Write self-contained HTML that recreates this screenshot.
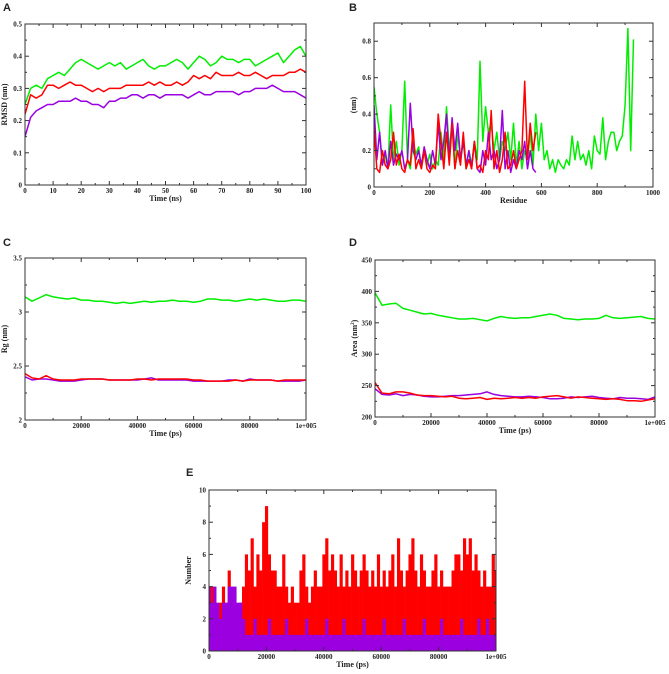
<!DOCTYPE html>
<html><head><meta charset="utf-8"><style>
body{margin:0;background:#fff;width:669px;height:669px;overflow:hidden}
svg text{font-family:"Liberation Serif",serif;font-weight:bold;fill:#222}
.pl{font-family:"Liberation Sans",sans-serif!important;font-size:11px}
</style></head><body>
<svg id="fig" width="669" height="669" xmlns="http://www.w3.org/2000/svg"></svg>
<script>
// Panel A: RMSD
const aTime=[];for(let i=0;i<=50;i++)aTime.push(i*2);
const aGreen=[0.25,0.30,0.31,0.30,0.33,0.34,0.35,0.34,0.36,0.38,0.39,0.38,0.37,0.36,0.37,0.38,0.37,0.38,0.36,0.37,0.38,0.39,0.37,0.36,0.37,0.37,0.38,0.39,0.38,0.36,0.38,0.40,0.39,0.37,0.38,0.40,0.39,0.39,0.38,0.39,0.39,0.37,0.38,0.39,0.40,0.41,0.38,0.40,0.42,0.43,0.40];
const aRed=[0.22,0.28,0.27,0.28,0.31,0.31,0.30,0.31,0.32,0.31,0.31,0.30,0.29,0.30,0.29,0.30,0.30,0.30,0.31,0.31,0.31,0.31,0.32,0.31,0.32,0.31,0.31,0.32,0.31,0.32,0.34,0.33,0.34,0.33,0.35,0.34,0.34,0.34,0.35,0.34,0.34,0.35,0.34,0.33,0.34,0.34,0.34,0.35,0.35,0.36,0.35];
const aPurple=[0.15,0.21,0.23,0.24,0.25,0.25,0.26,0.26,0.26,0.27,0.26,0.26,0.25,0.25,0.24,0.26,0.26,0.27,0.27,0.28,0.28,0.27,0.28,0.28,0.27,0.28,0.28,0.28,0.28,0.27,0.28,0.29,0.28,0.28,0.29,0.29,0.29,0.29,0.28,0.29,0.29,0.30,0.30,0.30,0.31,0.30,0.29,0.29,0.29,0.28,0.27];
// Panel B: RMSF
const bGreen=[0.55,0.4,0.3,0.12,0.18,0.1,0.45,0.15,0.25,0.12,0.2,0.58,0.15,0.1,0.25,0.18,0.22,0.1,0.2,0.12,0.18,0.1,0.15,0.12,0.3,0.15,0.44,0.2,0.35,0.1,0.3,0.15,0.25,0.1,0.2,0.12,0.25,0.15,0.69,0.25,0.44,0.3,0.35,0.2,0.3,0.15,0.25,0.2,0.3,0.15,0.35,0.12,0.25,0.1,0.2,0.15,0.3,0.12,0.4,0.2,0.35,0.15,0.2,0.1,0.15,0.08,0.15,0.12,0.1,0.15,0.12,0.28,0.15,0.25,0.15,0.18,0.12,0.2,0.1,0.28,0.2,0.18,0.38,0.15,0.25,0.3,0.3,0.2,0.25,0.28,0.45,0.87,0.2,0.81];
const bRed=[0.33,0.1,0.08,0.2,0.12,0.1,0.15,0.3,0.12,0.18,0.1,0.08,0.15,0.12,0.32,0.1,0.15,0.1,0.2,0.1,0.08,0.12,0.1,0.4,0.25,0.1,0.3,0.12,0.35,0.1,0.2,0.12,0.3,0.1,0.15,0.1,0.25,0.1,0.12,0.08,0.2,0.15,0.42,0.1,0.2,0.08,0.15,0.3,0.1,0.12,0.2,0.1,0.15,0.2,0.58,0.15,0.35,0.2,0.3];
const bPurple=[0.45,0.15,0.3,0.12,0.2,0.1,0.25,0.12,0.18,0.15,0.2,0.1,0.15,0.46,0.2,0.15,0.2,0.12,0.22,0.15,0.1,0.2,0.12,0.35,0.15,0.25,0.4,0.15,0.38,0.2,0.35,0.15,0.25,0.12,0.2,0.1,0.25,0.1,0.08,0.2,0.12,0.3,0.15,0.2,0.1,0.15,0.42,0.1,0.2,0.08,0.15,0.1,0.2,0.15,0.25,0.1,0.2,0.1,0.08];
// Panel C: Rg
const cGreen=[3.14,3.10,3.13,3.16,3.14,3.13,3.12,3.13,3.11,3.11,3.10,3.10,3.09,3.08,3.09,3.08,3.09,3.10,3.09,3.10,3.10,3.11,3.10,3.10,3.09,3.10,3.12,3.12,3.11,3.11,3.10,3.11,3.12,3.11,3.12,3.11,3.10,3.10,3.11,3.11,3.10];
const cRed=[2.43,2.39,2.38,2.41,2.38,2.37,2.37,2.37,2.38,2.38,2.38,2.38,2.37,2.37,2.37,2.37,2.38,2.38,2.37,2.38,2.38,2.38,2.38,2.38,2.37,2.37,2.36,2.36,2.36,2.36,2.37,2.36,2.37,2.37,2.37,2.37,2.36,2.37,2.37,2.37,2.37];
const cPurple=[2.40,2.37,2.38,2.38,2.37,2.36,2.36,2.36,2.37,2.38,2.38,2.38,2.37,2.37,2.37,2.37,2.37,2.38,2.39,2.37,2.37,2.37,2.37,2.37,2.36,2.36,2.36,2.36,2.36,2.37,2.37,2.36,2.38,2.37,2.37,2.37,2.36,2.36,2.36,2.36,2.37];
// Panel D: SASA
const dGreen=[398,378,380,381,373,370,367,364,365,362,360,358,356,356,357,355,353,357,360,358,357,358,358,360,362,364,362,357,356,355,356,356,357,362,358,357,358,359,360,357,356];
const dRed=[255,238,237,240,240,238,235,234,234,233,232,233,230,229,230,231,228,230,229,230,231,230,231,230,232,233,234,232,230,232,231,230,229,228,229,228,226,226,225,227,229];
const dPurple=[245,236,235,237,234,236,235,233,232,232,233,234,234,235,236,237,240,236,234,233,232,232,233,232,231,229,229,230,232,231,232,233,231,230,229,231,230,230,229,228,232];
// Panel E: H-bonds
const eRed=[3,4,3,2,3,4,3,5,3,3,2,3,4, 6,5,7,4,6,5,8,9,6,5,5,4,4, 6,4,3,4,3,3,5,6,4,3,4,5,4,4,6, 7,5,6,5,4,6,4,5,4,6,5,4,5,6,5, 4,5,4,6,4,5,4,5,6,4,7,5,4,5,6, 7,5,4,6,5,4,4,5,6,4,5,4,4,4,5, 6,6,5,7,6,7,5,6,5,4,5,4,4,6,5];
const ePurple=[4,3,4,3,2,3,3,4,4,4,3,3,2, 1,1,1,2,1,1,1,1,2,1,1,1,1,1,2,1,1,1,1,1,1,2,1,1,1,1,1,1,2,1,1,1,1,1,2,1,1,1,1,1,1,2,1,1,1,1,1,1,2,1,1,1,1,1,1,2,1,1,1,1,1,1,2,1,1,1,1,1,2,1,1,1,1,1,1,2,1,1,1,1,1,2,1,1,2,1,1,1];
const psTime=[];for(let i=0;i<=40;i++)psTime.push(i*2500);
const eTime=[];for(let i=0;i<=100;i++)eTime.push(i*1000);

const NS="http://www.w3.org/2000/svg",svg=document.getElementById('fig');
function mk(t,a,p){const e=document.createElementNS(NS,t);for(const k in a)e.setAttribute(k,a[k]);(p||svg).appendChild(e);return e;}
function panel(c){
  const g=mk('g',{});
  
  
  const sx=v=>c.x0+(v-c.xmin)/(c.xmax-c.xmin)*(c.x1-c.x0);
  const sy=v=>c.y1-(v-c.ymin)/(c.ymax-c.ymin)*(c.y1-c.y0);
  const clip=mk('clipPath',{id:'cl'+c.name},g);mk('rect',{x:c.x0,y:c.y0,width:c.x1-c.x0,height:c.y1-c.y0},clip);
  const sg=mk('g',{'clip-path':'url(#cl'+c.name+')'},g);
  if(c.bars){c.bars.forEach(s=>{const w=(c.x1-c.x0)/(s.x.length-1);s.y.forEach((v,i)=>{const r=mk('rect',{x:sx(s.x[i])-w/2,y:sy(v),width:w+0.3,height:c.y1-sy(v),fill:s.col},sg);
    
    });});}
  (c.series||[]).forEach(s=>{const p=mk('polyline',{points:s.y.map((v,i)=>sx(s.x[i]).toFixed(1)+','+sy(v).toFixed(1)).join(' '),fill:'none',stroke:s.col,'stroke-width':1.5,'stroke-linejoin':'round'},sg);
    
    });
  mk('rect',{x:c.x0,y:c.y0,width:c.x1-c.x0,height:c.y1-c.y0,fill:'none',stroke:'#333','stroke-width':1},g);
  const tk=mk('g',{stroke:'#333','stroke-width':1},g);
  c.xt.forEach((v,i)=>{const x=sx(v);mk('line',{x1:x,y1:c.y1,x2:x,y2:c.y1-4},tk);mk('line',{x1:x,y1:c.y0,x2:x,y2:c.y0+4},tk);
    if(i<c.xt.length-1){const m=sx(v+(c.xt[1]-c.xt[0])/2);mk('line',{x1:m,y1:c.y1,x2:m,y2:c.y1-2},tk);mk('line',{x1:m,y1:c.y0,x2:m,y2:c.y0+2},tk);}
    const t=mk('text',{x:x,y:c.y1+8,'font-size':7,'text-anchor':'middle'},g);t.textContent=c.xl[i];});
  c.yt.forEach((v,i)=>{const y=sy(v);mk('line',{x1:c.x0,y1:y,x2:c.x0+4,y2:y},tk);mk('line',{x1:c.x1,y1:y,x2:c.x1-4,y2:y},tk);
    const m=v+(c.yt[1]-c.yt[0])/2;if(m<c.ymax){const ym=sy(m);mk('line',{x1:c.x0,y1:ym,x2:c.x0+2,y2:ym},tk);mk('line',{x1:c.x1,y1:ym,x2:c.x1-2,y2:ym},tk);}
    const t=mk('text',{x:c.x0-3,y:y+2.5,'font-size':7,'text-anchor':'end'},g);t.textContent=c.yl[i];});
  const xt=mk('text',{x:(c.x0+c.x1)/2,y:c.y1+16,'font-size':8,'text-anchor':'middle'},g);xt.textContent=c.xtitle;
  
  
  const yt=mk('text',{x:0,y:0,'font-size':8,'text-anchor':'middle',transform:`translate(${c.x0-18},${(c.y0+c.y1)/2}) rotate(-90)`},g);yt.innerHTML=c.ytitle;
  
  
  const pl=mk('text',{x:c.lx,y:c.ly,class:'pl'},g);pl.textContent=c.letter;
  
  
}
const G='#00ee00',R='#ff0000',P='#9a00e0';
const psT=[0,20000,40000,60000,80000,100000],psL=['0','20000','40000','60000','80000','1e+005'];
panel({name:'panel-a-rmsd',letter:'A',lx:3,ly:11,x0:25,x1:306,y0:24,y1:185,xmin:0,xmax:100,ymin:0,ymax:0.5,
 xt:[0,10,20,30,40,50,60,70,80,90,100],xl:['0','10','20','30','40','50','60','70','80','90','100'],
 yt:[0,0.1,0.2,0.3,0.4,0.5],yl:['0','0.1','0.2','0.3','0.4','0.5'],xtitle:'Time (ns)',ytitle:'RMSD (nm)',
 series:[{n:'green-series',x:aTime,y:aGreen,col:G},{n:'red-series',x:aTime,y:aRed,col:R},{n:'purple-series',x:aTime,y:aPurple,col:P}]});
const bX1=bGreen.map((_,i)=>i*10),bX2=bRed.map((_,i)=>i*10);
panel({name:'panel-b-rmsf',letter:'B',lx:349,ly:11,x0:374,x1:653,y0:23,y1:187,xmin:0,xmax:1000,ymin:0,ymax:0.9,
 xt:[0,200,400,600,800,1000],xl:['0','200','400','600','800','1000'],
 yt:[0,0.2,0.4,0.6,0.8],yl:['0','0.2','0.4','0.6','0.8'],xtitle:'Residue',ytitle:'(nm)',
 series:[{n:'green-series',x:bX1,y:bGreen,col:G},{n:'purple-series',x:bX2,y:bPurple,col:P},{n:'red-series',x:bX2,y:bRed,col:R}]});
panel({name:'panel-c-rg',letter:'C',lx:3,ly:246,x0:25,x1:306,y0:258,y1:420,xmin:0,xmax:100000,ymin:2,ymax:3.5,
 xt:psT,xl:psL,yt:[2,2.5,3,3.5],yl:['2','2.5','3','3.5'],xtitle:'Time (ps)',ytitle:'Rg (nm)',
 series:[{n:'green-series',x:psTime,y:cGreen,col:G},{n:'purple-series',x:psTime,y:cPurple,col:P},{n:'red-series',x:psTime,y:cRed,col:R}]});
panel({name:'panel-d-sasa',letter:'D',lx:349,ly:246,x0:375,x1:655,y0:260,y1:417,xmin:0,xmax:100000,ymin:200,ymax:450,
 xt:psT,xl:psL,yt:[200,250,300,350,400,450],yl:['200','250','300','350','400','450'],xtitle:'Time (ps)',ytitle:'Area (nm<tspan font-size="5" dy="-3">2</tspan><tspan dy="3">)</tspan>',
 series:[{n:'green-series',x:psTime,y:dGreen,col:G},{n:'purple-series',x:psTime,y:dPurple,col:P},{n:'red-series',x:psTime,y:dRed,col:R}]});
panel({name:'panel-e-hbonds',letter:'E',lx:186,ly:476,x0:209,x1:496,y0:490,y1:651,xmin:0,xmax:100000,ymin:0,ymax:10,
 xt:psT,xl:psL,yt:[0,2,4,6,8,10],yl:['0','2','4','6','8','10'],xtitle:'Time (ps)',ytitle:'Number',
 bars:[{x:eTime,y:eRed,col:R},{x:eTime,y:ePurple,col:P}]});
</script>
</body></html>
